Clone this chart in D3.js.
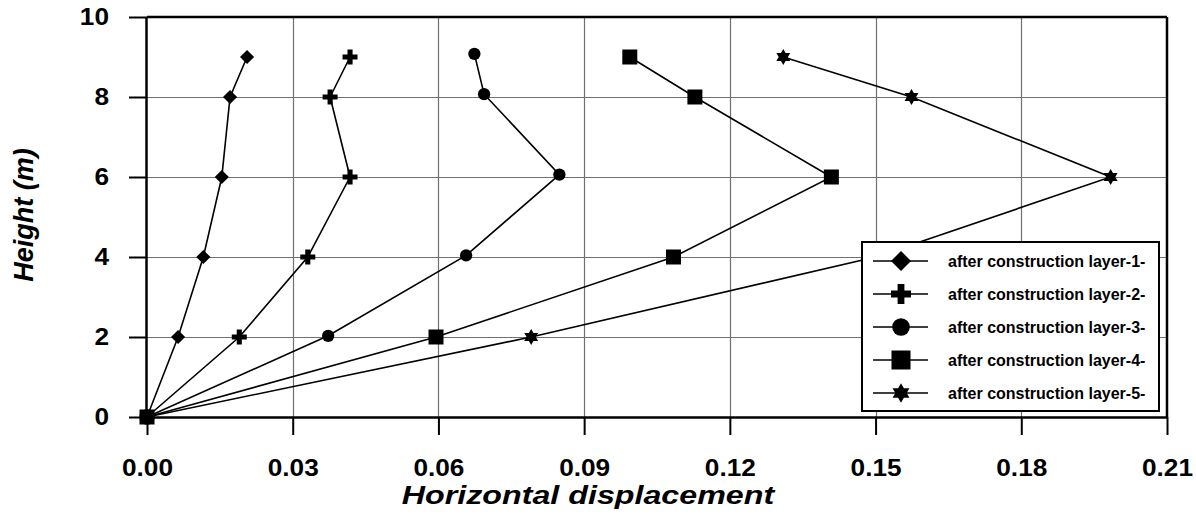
<!DOCTYPE html>
<html>
<head>
<meta charset="utf-8">
<script src="https://cdn.jsdelivr.net/npm/d3@7"></script>
<style>
  html, body { margin: 0; padding: 0; background: #fff; }
  svg { display: block; }
  text { font-family: "Liberation Sans", Arial, sans-serif; font-weight: bold; fill: #000; }
</style>
</head>
<body>
<svg id="chart" width="1196" height="515"></svg>
<script>
// ---- data ----
const seriesNames = [
  "after construction layer-1-",
  "after construction layer-2-",
  "after construction layer-3-",
  "after construction layer-4-",
  "after construction layer-5-"
];
const heights = [0, 2, 4, 6, 8, 9];
const heightsLayer3 = [0, 2.03, 4.04, 6.06, 8.07, 9.08];
const layer1 = [0, 0.0064, 0.0116, 0.0154, 0.0171, 0.0206];
const layer2 = [0, 0.0190, 0.0331, 0.0418, 0.0377, 0.0418];
const layer3 = [0, 0.0373, 0.0657, 0.0849, 0.0694, 0.0674];
const layer4 = [0, 0.0595, 0.1084, 0.1409, 0.1128, 0.0994];
const layer5 = [0, 0.0791, 0.1500, 0.1984, 0.1574, 0.1310];
const xTicks = [0, 0.03, 0.06, 0.09, 0.12, 0.15, 0.18, 0.21];
const yTicks = [0, 2, 4, 6, 8, 10];
const xTitle = "Horizontal displacement";
const yTitle = "Height (m)";

// ---- symbols ----
const symDiamond = { draw(ctx, size) { const r = Math.sqrt(size / 2);
  ctx.moveTo(0, -r); ctx.lineTo(r, 0); ctx.lineTo(0, r); ctx.lineTo(-r, 0); ctx.closePath(); } };
const symSquare = { draw(ctx, size) { const r = Math.sqrt(size) / 2;
  ctx.rect(-r, -r, 2 * r, 2 * r); } };
const symCircle = { draw(ctx, size) { const r = Math.sqrt(size / Math.PI);
  ctx.moveTo(r, 0); ctx.arc(0, 0, r, 0, 2 * Math.PI); } };
const symPlus = { draw(ctx, size) { const r = Math.sqrt(size) / 2, w = r * 0.34;
  ctx.moveTo(-r, -w); ctx.lineTo(-w, -w); ctx.lineTo(-w, -r); ctx.lineTo(w, -r); ctx.lineTo(w, -w);
  ctx.lineTo(r, -w); ctx.lineTo(r, w); ctx.lineTo(w, w); ctx.lineTo(w, r); ctx.lineTo(-w, r);
  ctx.lineTo(-w, w); ctx.lineTo(-r, w); ctx.closePath(); } };
const symStar6 = { draw(ctx, size) { const r = Math.sqrt(size) / 2;
  for (let t = 0; t < 2; t++) {
    for (let i = 0; i < 3; i++) {
      const a = (t === 0 ? -Math.PI / 2 : Math.PI / 2) + i * 2 * Math.PI / 3;
      const px = r * Math.cos(a), py = r * Math.sin(a);
      if (i === 0) ctx.moveTo(px, py); else ctx.lineTo(px, py);
    }
    ctx.closePath();
  } } };

const series = [
  { name: seriesNames[0], xs: layer1, ys: heights, sym: symDiamond, size: 100, lsize: 200 },
  { name: seriesNames[1], xs: layer2, ys: heights, sym: symPlus, size: 225, lsize: 400 },
  { name: seriesNames[2], xs: layer3, ys: heightsLayer3, sym: symCircle, size: 119, lsize: 245 },
  { name: seriesNames[3], xs: layer4, ys: heights, sym: symSquare, size: 225, lsize: 361 },
  { name: seriesNames[4], xs: layer5, ys: heights, sym: symStar6, size: 256, lsize: 380 }
];

// ---- layout ----
const svg = d3.select("#chart");
const L = 147, R = 1167, T = 17, B = 417;
const x = d3.scaleLinear().domain([0, 0.21]).range([L, R]);
const y = d3.scaleLinear().domain([0, 10]).range([B, T]);

// grid
const grid = svg.append("g");
grid.selectAll("line.vx").data(xTicks.filter(d => d > 0 && d < 0.21)).enter().append("line")
  .attr("x1", d => Math.round(x(d)) + 0.5).attr("x2", d => Math.round(x(d)) + 0.5)
  .attr("y1", T).attr("y2", B).attr("stroke", "#707070").attr("stroke-width", 1.2);
grid.selectAll("line.hy").data(yTicks.filter(d => d > 0 && d < 10)).enter().append("line")
  .attr("y1", d => Math.round(y(d)) + 0.5).attr("y2", d => Math.round(y(d)) + 0.5)
  .attr("x1", L).attr("x2", R).attr("stroke", "#707070").attr("stroke-width", 1.2);

// frame top/right
svg.append("line").attr("x1", L).attr("x2", R).attr("y1", T).attr("y2", T).attr("stroke", "#000").attr("stroke-width", 2.5);
svg.append("line").attr("x1", R).attr("x2", R).attr("y1", T).attr("y2", B).attr("stroke", "#000").attr("stroke-width", 2.5);

// axes
const xAxis = d3.axisBottom(x).tickValues(xTicks).tickFormat(d3.format(".2f")).tickSize(18).tickPadding(25);
const yAxis = d3.axisLeft(y).tickValues(yTicks).tickFormat(d3.format("d")).tickSize(18).tickPadding(20);
const gx = svg.append("g").attr("transform", `translate(0,${B})`).call(xAxis);
const gy = svg.append("g").attr("transform", `translate(${L},0)`).call(yAxis);
[gx, gy].forEach(g => {
  g.attr("font-size", null).attr("font-family", null);
  g.select(".domain").attr("stroke", "#000").attr("stroke-width", 2.5);
  g.selectAll(".tick line").attr("stroke", "#000").attr("stroke-width", 2);
  g.selectAll(".tick text").style("font-family", '"Liberation Sans", Arial, sans-serif')
    .style("font-weight", "bold").style("font-size", "23px").attr("fill", "#000");
});
gx.selectAll(".tick text").attr("transform", "scale(1.14,1)");
gy.selectAll(".tick text").attr("transform", "translate(-38,0) scale(1.14,1) translate(38,0)");
gx.select(".domain").attr("d", `M${L},0.5H${R}`);
gy.select(".domain").attr("d", `M-0.5,${B}V${T}`);

// titles
svg.append("text").attr("x", 588).attr("y", 504).attr("text-anchor", "middle")
  .style("font-size", "26px").style("font-style", "italic").attr("transform", "translate(588,0) scale(1.24,1) translate(-588,0)")
  .text(xTitle);
svg.append("text").attr("transform", "translate(33,215) rotate(-90)").attr("text-anchor", "middle")
  .style("font-size", "27px").style("font-style", "italic").text(yTitle);

// series
const lineGen = d3.line().x(d => x(d[0])).y(d => y(d[1]));
series.forEach(s => {
  const pts = s.xs.map((v, i) => [v, s.ys[i]]);
  svg.append("path").attr("d", lineGen(pts)).attr("fill", "none").attr("stroke", "#000").attr("stroke-width", 1.6);
  svg.append("g").selectAll("path").data(pts).enter().append("path")
    .attr("transform", d => `translate(${x(d[0])},${y(d[1])})`)
    .attr("d", d3.symbol().type(s.sym).size(s.size)).attr("fill", "#000");
});

// legend
const lg = svg.append("g");
lg.append("rect").attr("x", 862).attr("y", 242).attr("width", 297).attr("height", 169)
  .attr("fill", "#fff").attr("stroke", "#000").attr("stroke-width", 2);
const rowY = d3.scalePoint().domain(seriesNames).range([261, 393]);
series.forEach(s => {
  const cy = rowY(s.name);
  lg.append("line").attr("x1", 873).attr("x2", 928).attr("y1", cy).attr("y2", cy).attr("stroke", "#000").attr("stroke-width", 1.6);
  lg.append("path").attr("transform", `translate(901,${cy})`).attr("d", d3.symbol().type(s.sym).size(s.lsize)).attr("fill", "#000");
  lg.append("text").attr("x", 948).attr("y", cy).attr("dy", "0.35em").style("font-size", "16px").text(s.name);
});
</script>
</body>
</html>
